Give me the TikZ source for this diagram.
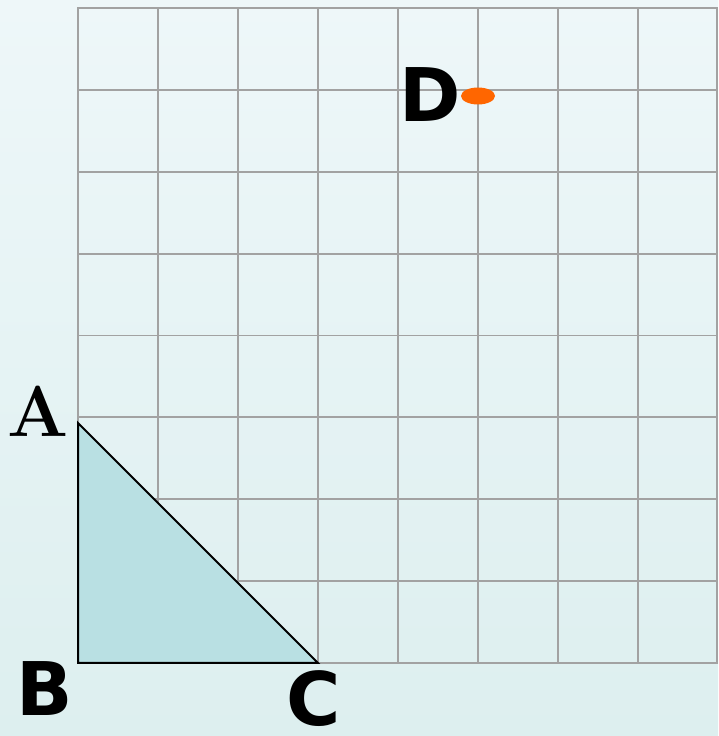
\documentclass[tikz,border=0pt]{standalone}
\usepackage{fontspec}
\newfontfamily\labsans{DejaVu Sans}
\definecolor{bgtop}{HTML}{EEF7F9}
\definecolor{bgbot}{HTML}{DDEFEF}
\definecolor{gridgray}{HTML}{A2A2A2}
\definecolor{trifill}{HTML}{B9E0E3}
\definecolor{dotorange}{HTML}{FF6600}
\tikzset{
  gridline/.style={draw=gridgray, line width=1.8pt},
  frameline/.style={draw=gridgray, line width=2.6pt},
  sanslab/.style={font=\labsans\bfseries\fontsize{74}{80}\selectfont, inner sep=0pt, anchor=base},
  seriflab/.style={font=\bfseries\fontsize{72}{78}\selectfont, inner sep=0pt, anchor=base},
}
\begin{document}
\begin{tikzpicture}[x=1pt,y=1pt]
\useasboundingbox (0,0) rectangle (718,736);
\shade[top color=bgtop, bottom color=bgbot] (0,0) rectangle (718,736);
% grid
\foreach \i in {1,...,7} {
  \draw[gridline] ({78+80*\i},73) -- ({78+80*\i},728);
  \draw[gridline] (78,{73+81.875*\i}) -- (717,{73+81.875*\i});
}
\draw[frameline] (78,73) rectangle (717,728);
% triangle
\coordinate (A) at (78,313);
\coordinate (B) at (78,73);
\coordinate (C) at (318,73);
\filldraw[fill=trifill, draw=black, line width=2pt, line join=miter] (A) -- (B) -- (C) -- cycle;
% point D
\fill[dotorange] (478,640) ellipse [x radius=17, y radius=8.5];
% labels
\node[seriflab] (la) at (38.5,299) {A};
\node[sanslab] (lb) at (44.5,20) {B};
\node[sanslab] (lc) at (314,10) {C};
\node[sanslab] (ld) at (430,614) {D};
\end{tikzpicture}
\end{document}
